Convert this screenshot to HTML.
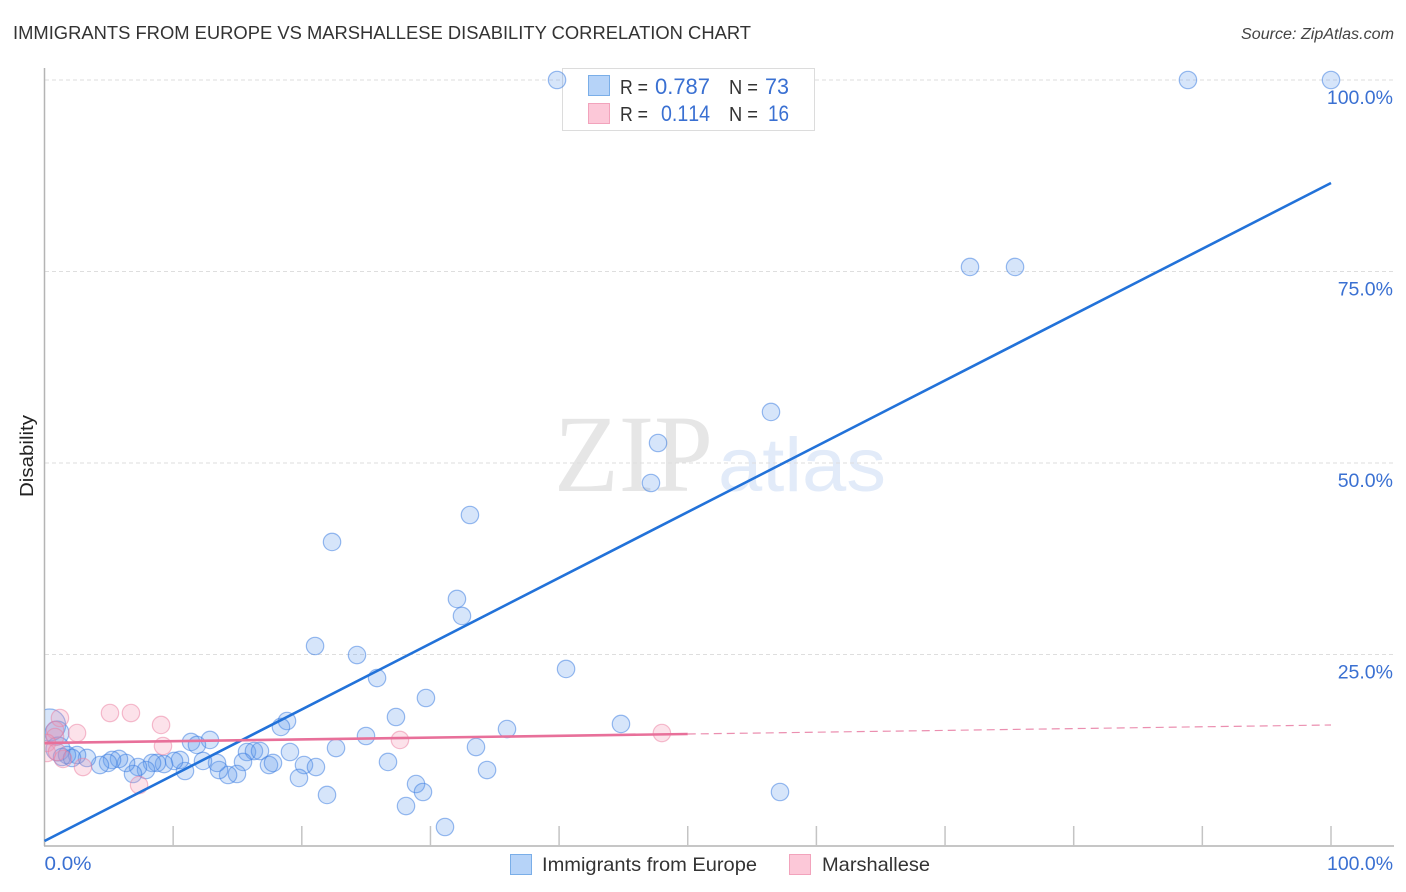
<!DOCTYPE html>
<html lang="en">
<head>
<meta charset="utf-8">
<title>Immigrants from Europe vs Marshallese Disability Correlation Chart</title>
<style>
html,body{margin:0;padding:0;background:#fff;}
svg{display:block;font-family:"Liberation Sans",sans-serif;}
.nk{font-kerning:none;}
</style>
</head>
<body>
<svg id="chart" xmlns="http://www.w3.org/2000/svg" width="1406" height="892" viewBox="0 0 1406 892">
  <defs><clipPath id="plot-clip"><rect x="45" y="60" width="1350" height="786"/></clipPath></defs>
  <text x="13" y="39" font-size="18.5" fill="#333" textLength="738" lengthAdjust="spacingAndGlyphs">IMMIGRANTS FROM EUROPE VS MARSHALLESE DISABILITY CORRELATION CHART</text>
  <text x="1394" y="39" font-size="15.5" font-style="italic" fill="#444" text-anchor="end" textLength="153" lengthAdjust="spacingAndGlyphs">Source: ZipAtlas.com</text>
  <g>
    <text x="554" y="491" font-family="'Liberation Serif',serif" font-size="110" fill="#e6e6e6" textLength="159" lengthAdjust="spacingAndGlyphs">ZIP</text>
    <text x="718" y="491" font-size="76" fill="#e2ebf9" textLength="168" lengthAdjust="spacingAndGlyphs">atlas</text>
  </g>
  <g id="grid"></g>
  <rect x="562.5" y="68.5" width="252" height="62" fill="#fff" stroke="#dcdcdc" stroke-width="1"/>
  <g id="axes"></g>
  <g id="points" clip-path="url(#plot-clip)"></g>
  <g id="lines"></g>
  <text transform="translate(33 456) rotate(-90)" font-size="18" fill="#222" text-anchor="middle" textLength="82" lengthAdjust="spacingAndGlyphs">Disability</text>
  <g>
    <rect x="588.5" y="75.5" width="21" height="20" fill="#b6d3f8" stroke="#7aaee8"/>
    <rect x="588.5" y="103.5" width="21" height="20" fill="#fcc8d8" stroke="#f2a3bc"/>
    <text x="620" y="94" font-size="20" fill="#333" textLength="28" lengthAdjust="spacingAndGlyphs">R =</text>
    <text class="nk" x="655" y="94" font-size="22" fill="#3a70d2" textLength="55" lengthAdjust="spacingAndGlyphs">0.787</text>
    <text x="729" y="94" font-size="20" fill="#333" textLength="29" lengthAdjust="spacingAndGlyphs">N =</text>
    <text class="nk" x="765" y="94" font-size="22" fill="#3a70d2" textLength="24" lengthAdjust="spacingAndGlyphs">73</text>
    <text x="620" y="121" font-size="20" fill="#333" textLength="28" lengthAdjust="spacingAndGlyphs">R =</text>
    <text class="nk" x="661" y="121" font-size="22" fill="#3a70d2" textLength="49" lengthAdjust="spacingAndGlyphs">0.114</text>
    <text x="729" y="121" font-size="20" fill="#333" textLength="29" lengthAdjust="spacingAndGlyphs">N =</text>
    <text class="nk" x="768" y="121" font-size="22" fill="#3a70d2" textLength="21" lengthAdjust="spacingAndGlyphs">16</text>
  </g>
  <g>
    <rect x="510.5" y="854.5" width="21" height="20" fill="#b6d3f8" stroke="#7aaee8"/>
    <text x="542" y="871" font-size="19.5" fill="#333" textLength="215" lengthAdjust="spacingAndGlyphs">Immigrants from Europe</text>
    <rect x="789.5" y="854.5" width="21" height="20" fill="#fcc8d8" stroke="#f2a3bc"/>
    <text x="822" y="871" font-size="19.5" fill="#333" textLength="108" lengthAdjust="spacingAndGlyphs">Marshallese</text>
  </g>
</svg>
<script>
const yTickValues = [25, 50, 75, 100];
const yTickLabels = ["25.0%", "50.0%", "75.0%", "100.0%"];
const xTickValues = [10, 20, 30, 40, 50, 60, 70, 80, 90, 100];
const xEndValues = [0, 100];
const xEndLabels = ["0.0%", "100.0%"];

const europeX = [39.84,88.88,100,71.94,75.44,56.47,47.69,47.14,33.07,22.35,32.06,32.45,21.03,24.29,40.54,25.85,29.65,27.32,18.85,18.38,44.81,35.95,24.99,12.86,11.39,11.85,33.54,22.66,19.08,15.74,16.28,16.75,26.7,20.17,21.1,34.4,19.78,28.88,29.42,57.17,21.96,28.1,31.13,17.45,17.76,15.43,14.96,14.27,13.57,13.41,12.32,10.92,10.53,10.07,9.29,8.74,8.36,7.89,7.27,6.88,6.34,5.79,5.25,4.94,4.31,3.3,2.53,1.75,1.36,2.14];
const europeY = [100,100,100,75.59,75.59,56.66,52.61,47.39,43.21,39.69,32.25,30.03,26.11,24.93,23.11,21.93,19.32,16.84,16.32,15.54,15.93,15.27,14.36,13.84,13.58,13.19,12.92,12.79,12.27,12.27,12.4,12.4,10.97,10.57,10.31,9.92,8.88,8.09,7.05,7.05,6.66,5.22,2.48,10.57,10.84,10.97,9.4,9.27,9.92,10.84,11.1,9.79,11.23,11.1,10.7,10.84,10.84,9.92,10.31,9.4,10.84,11.36,11.23,10.84,10.57,11.49,11.88,11.88,11.62,11.49];
const europeLargeX = [0.4];
const europeLargeY = [15.8];
const europeMediumX = [0.97, 1.05];
const europeMediumY = [14.75, 12.66];

const marshalleseX = [1.2,2.53,5.09,6.72,9.06,9.21,7.35,2.99,1.44,0.82,0.82,0.19,0.19,0.97,27.63,47.99];
const marshalleseY = [16.71,14.75,17.36,17.36,15.8,13.05,7.96,10.31,11.36,15.14,14.23,13.45,12.14,12.27,13.84,14.75];

const europeTrendX = [0, 100];
const europeTrendY = [0.65, 86.55];
const marshalleseSolidX = [0, 50];
const marshalleseSolidY = [13.45, 14.62];
const marshalleseDashedX = [50, 100];
const marshalleseDashedY = [14.62, 15.8];

const NS = "http://www.w3.org/2000/svg";
function sx(v) { return 44.5 + v * 12.865; }
function sy(v) { return 846 - v * 7.66; }
function make(tag, attrs, parent) {
  const el = document.createElementNS(NS, tag);
  for (const k in attrs) el.setAttribute(k, attrs[k]);
  parent.appendChild(el);
  return el;
}
const grid = document.getElementById("grid");
const axes = document.getElementById("axes");
const points = document.getElementById("points");
const lines = document.getElementById("lines");

yTickValues.forEach(function (v, i) {
  const g = make("line", {x1: 45, x2: 1393, y1: sy(v), y2: sy(v), stroke: "#dedede", "stroke-width": 1, "stroke-dasharray": "4 3"}, grid);
  
  
  const t = make("text", {x: 1393, y: sy(v) + 24, "font-size": 19.5, fill: "#3a70d2", "text-anchor": "end"}, axes);
  t.textContent = yTickLabels[i];
  
  
});

const yAxis = make("line", {x1: 44.5, x2: 44.5, y1: 68, y2: 846, stroke: "#b4b4b4", "stroke-width": 1.5}, axes);


const xAxis = make("line", {x1: 44, x2: 1394, y1: 846, y2: 846, stroke: "#b4b4b4", "stroke-width": 1.5}, axes);



xTickValues.forEach(function (v) {
  const tk = make("line", {x1: sx(v), x2: sx(v), y1: 826, y2: 846, stroke: "#c4c4c4", "stroke-width": 1.5}, axes);
  
  
});

xEndValues.forEach(function (v, i) {
  const t = make("text", {x: i === 0 ? sx(v) : 1393, y: 870, "font-size": 19.5, fill: "#3a70d2", "text-anchor": i === 0 ? "start" : "end", textLength: i === 0 ? 47 : 66, lengthAdjust: "spacingAndGlyphs"}, axes);
  t.textContent = xEndLabels[i];
  
  
});

function drawPoints(xs, ys, r, fill, stroke, name) {
  xs.forEach(function (x, i) {
    const c = make("circle", {cx: sx(x), cy: sy(ys[i]), r: r, fill: fill, stroke: stroke, "stroke-width": 1.2}, points);
    
    
  });
}
const europeFill = "rgba(95,155,235,0.26)";
const europeStroke = "rgba(60,125,225,0.52)";
drawPoints(europeLargeX, europeLargeY, 16, europeFill, europeStroke, "europe-point");
drawPoints(europeMediumX, europeMediumY, 12, europeFill, europeStroke, "europe-point");
drawPoints(europeX, europeY, 8.7, europeFill, europeStroke, "europe-point");
drawPoints(marshalleseX, marshalleseY, 8.7, "rgba(245,150,180,0.28)", "rgba(235,125,160,0.5)", "marshallese-point");

function drawLine(xs, ys, color, width, dash, name) {
  const attrs = {x1: sx(xs[0]), y1: sy(ys[0]), x2: sx(xs[1]), y2: sy(ys[1]), stroke: color, "stroke-width": width};
  if (dash) attrs["stroke-dasharray"] = dash;
  const l = make("line", attrs, lines);
  
  
}
drawLine(europeTrendX, europeTrendY, "#2272d9", 2.6, null, "europe-trend-line");
drawLine(marshalleseSolidX, marshalleseSolidY, "#e8709a", 2.6, null, "marshallese-trend-line");
drawLine(marshalleseDashedX, marshalleseDashedY, "#eb8fb0", 1.2, "8 5", "marshallese-trend-extension");
</script>
</body>
</html>
